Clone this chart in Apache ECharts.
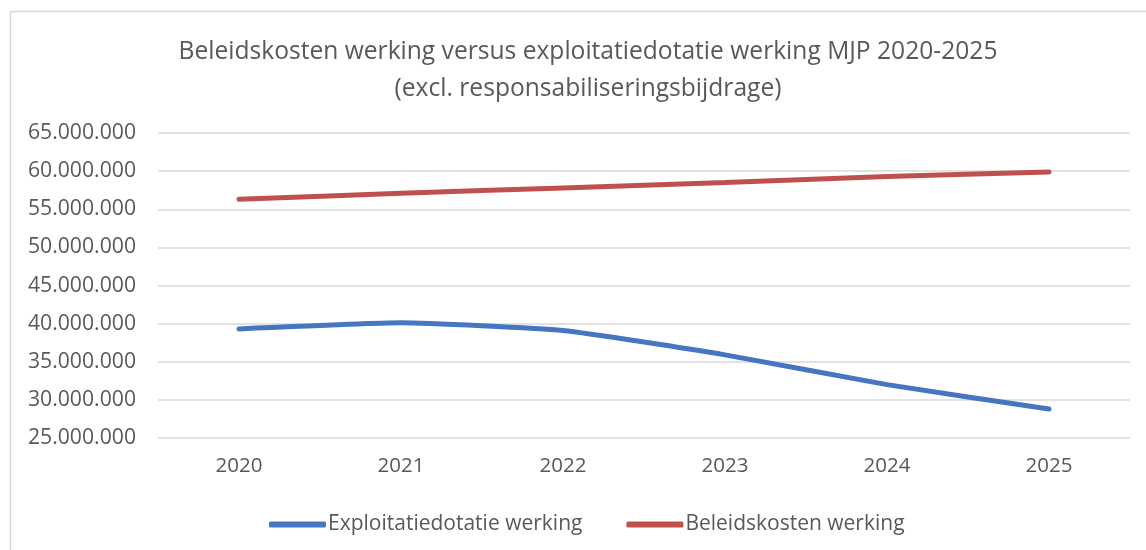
<!DOCTYPE html>
<html><head><meta charset="utf-8">
<script src="https://cdn.jsdelivr.net/npm/echarts@6/dist/echarts.min.js"></script>
<style>html,body{margin:0;padding:0;background:#fff}#c{width:1146px;height:550px}</style>
</head><body><div id="c"></div>
<script>
const categories = ['2020','2021','2022','2023','2024','2025'];
const exploitatiedotatie = [39300000, 40100000, 39100000, 35900000, 32000000, 28800000];
const beleidskosten = [56300000, 57100000, 57800000, 58500000, 59300000, 59900000];
const seriesNames = ['Exploitatiedotatie werking', 'Beleidskosten werking'];
const titleLines = ['Beleidskosten werking versus exploitatiedotatie werking MJP 2020-2025', '(excl. responsabiliseringsbijdrage)'];

const chart = echarts.init(document.getElementById('c'), null, {renderer: 'canvas'});
const font = 'Open Sans';
chart.setOption({
  animation: false,
  backgroundColor: '#fff',
  graphic: [{type: 'rect', shape: {x: 10.5, y: 11.5, width: 1150, height: 560}, style: {fill: 'none', stroke: '#d9d9d9', lineWidth: 1.5}, silent: true}],
  title: {
    text: titleLines.join('\n'), left: 583, textAlign: 'center', top: 28,
    textStyle: {fontFamily: font, fontSize: 24.6, fontWeight: 'normal', color: '#595959', lineHeight: 37}
  },
  legend: {
    data: seriesNames, top: 509, left: 264, itemWidth: 57, itemHeight: 6, itemGap: 44,
    icon: 'roundRect',
    textStyle: {fontFamily: font, fontSize: 21, color: '#595959', padding: [0,0,0,-3]}
  },
  grid: {left: 158, right: 16, top: 133, bottom: 112, containLabel: false},
  xAxis: {
    type: 'category', data: categories, boundaryGap: true,
    axisLine: {show: false}, axisTick: {show: false},
    axisLabel: {fontFamily: font, fontSize: 20.5, color: '#595959', margin: 18}
  },
  yAxis: {
    type: 'value', min: 25000000, max: 65000000, interval: 5000000,
    axisLine: {show: false}, axisTick: {show: false},
    splitLine: {lineStyle: {color: '#d9d9d9', width: 1.5}},
    axisLabel: {fontFamily: font, fontSize: 21.2, color: '#595959', margin: 22,
      formatter: v => String(Math.round(v)).replace(/\B(?=(\d{3})+(?!\d))/g, '.')}
  },
  series: [
    {name: seriesNames[0], type: 'line', data: exploitatiedotatie, symbol: 'none', smooth: 0.15,
     lineStyle: {color: '#4676C2', width: 5, cap: 'round'}, itemStyle: {color: '#4676C2'}},
    {name: seriesNames[1], type: 'line', data: beleidskosten, symbol: 'none', smooth: 0.15,
     lineStyle: {color: '#C0504D', width: 5, cap: 'round'}, itemStyle: {color: '#C0504D'}}
  ]
});
</script></body></html>
